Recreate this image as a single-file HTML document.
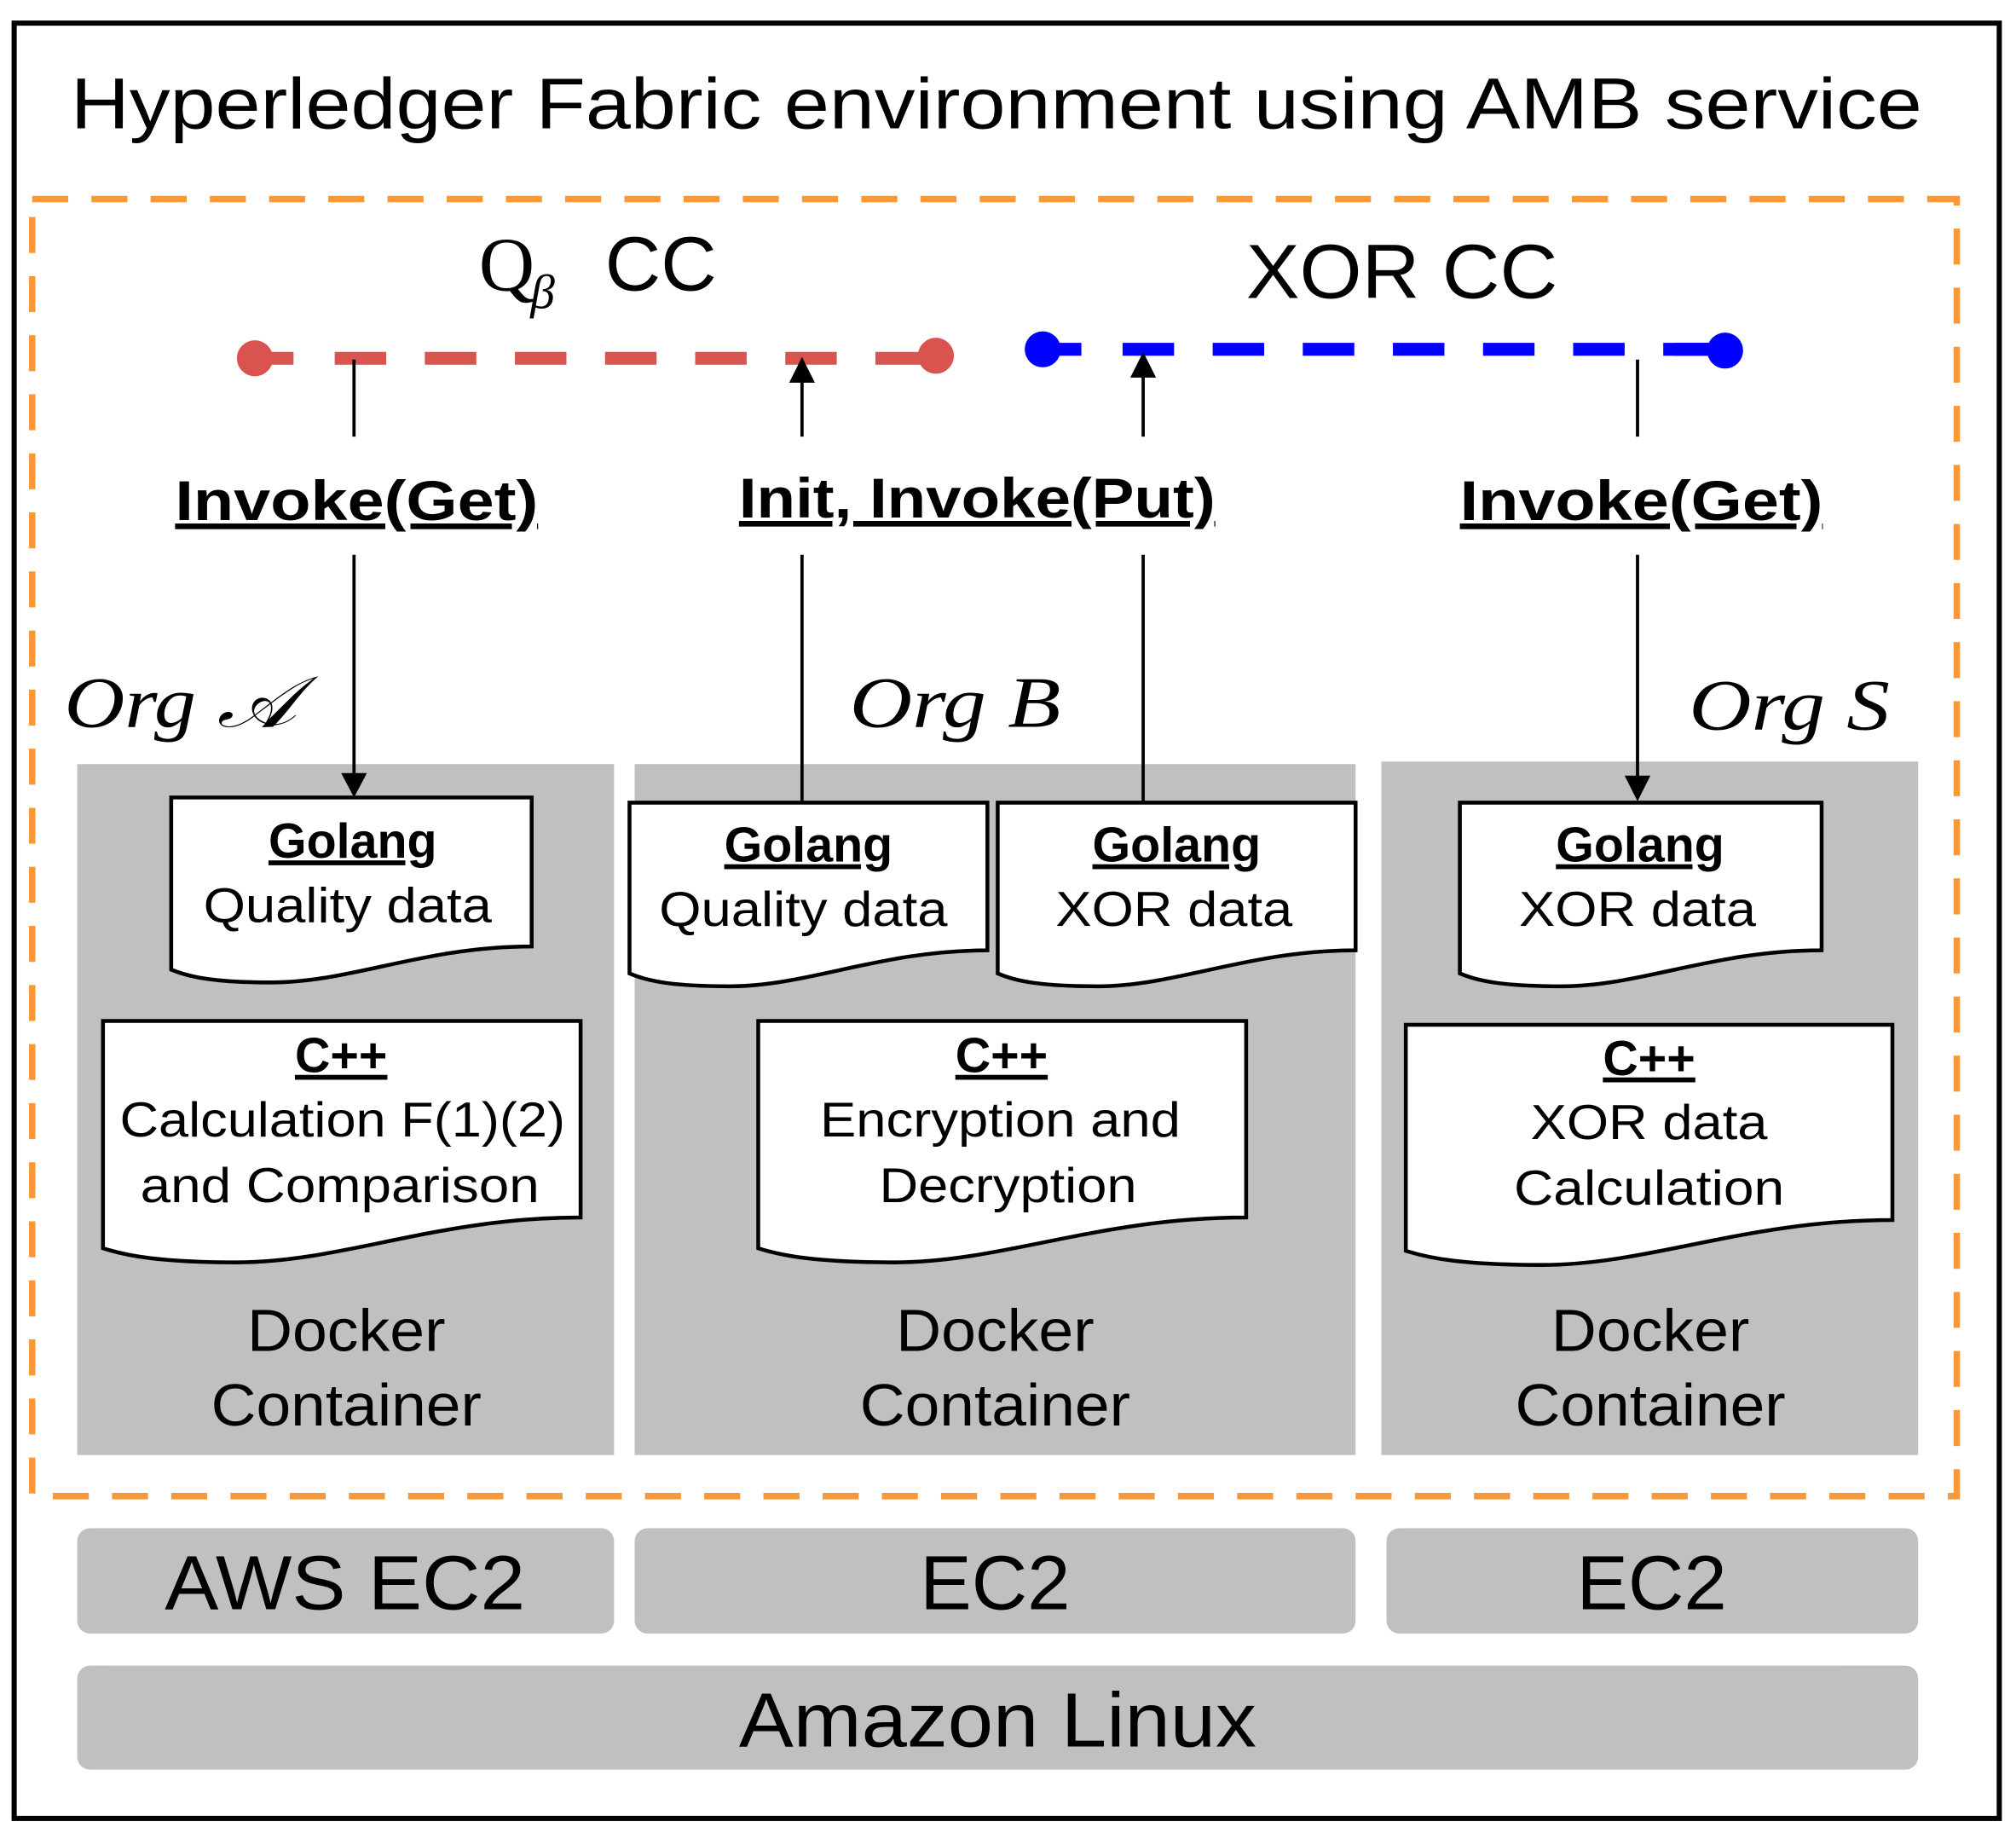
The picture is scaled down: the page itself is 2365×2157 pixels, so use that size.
<!DOCTYPE html>
<html><head><meta charset="utf-8"><style>html,body{margin:0;padding:0;background:#fff}svg{display:block}</style></head>
<body>
<svg width="2365" height="2157" viewBox="0 0 1566 1432" preserveAspectRatio="none" xmlns="http://www.w3.org/2000/svg" font-family="Liberation Sans, sans-serif">
<rect x="11" y="18" width="1542" height="1398" fill="#fff" stroke="#000" stroke-width="4"/>
<text x="55" y="100" font-size="56" textLength="1438" lengthAdjust="spacingAndGlyphs">Hyperledger Fabric environment using AMB service</text>
<rect x="25" y="155" width="1495" height="1010" fill="none" stroke="#f7993a" stroke-width="5" stroke-dasharray="28 18"/>
<text x="372" y="226" font-size="60" font-family="Liberation Serif, serif">Q</text>
<text x="412" y="240" font-size="38" font-style="italic" font-family="Liberation Serif, serif">β</text>
<text x="470" y="226" font-size="60">CC</text>
<text x="968" y="232" font-size="60" textLength="242" lengthAdjust="spacingAndGlyphs">XOR CC</text>
<line x1="198" y1="279" x2="228" y2="279" stroke="#d9534f" stroke-width="10"/>
<line x1="260" y1="279" x2="727" y2="279" stroke="#d9534f" stroke-width="10" stroke-dasharray="40 30"/>
<circle cx="198" cy="279" r="14" fill="#d9534f"/><circle cx="727" cy="277" r="14" fill="#d9534f"/>
<line x1="810" y1="272" x2="840" y2="272" stroke="#0000ff" stroke-width="10"/>
<line x1="872" y1="272" x2="1340" y2="272" stroke="#0000ff" stroke-width="10" stroke-dasharray="40 30"/>
<line x1="1300" y1="272" x2="1340" y2="272" stroke="#0000ff" stroke-width="10"/>
<circle cx="810" cy="272" r="14" fill="#0000ff"/><circle cx="1340" cy="273" r="14" fill="#0000ff"/>
<g fill="#c0c0c0">
<rect x="60" y="595" width="417" height="538"/>
<rect x="493" y="595" width="560" height="538"/>
<rect x="1073" y="593" width="417" height="540"/>
<rect x="60" y="1190" width="417" height="82" rx="10"/>
<rect x="493" y="1190" width="560" height="82" rx="10"/>
<rect x="1077" y="1190" width="413" height="82" rx="10"/>
<rect x="60" y="1297" width="1430" height="81" rx="10"/>
</g>
<g stroke="#000" stroke-width="2.5">
<line x1="275" y1="280" x2="275" y2="340"/>
<line x1="275" y1="432" x2="275" y2="604"/>
<line x1="623" y1="626" x2="623" y2="432"/>
<line x1="623" y1="340" x2="623" y2="296"/>
<line x1="888" y1="626" x2="888" y2="432"/>
<line x1="888" y1="340" x2="888" y2="292"/>
<line x1="1272" y1="280" x2="1272" y2="340"/>
<line x1="1272" y1="432" x2="1272" y2="606"/>
</g>
<g fill="#000">
<polygon points="265,602 285,602 275,621"/>
<polygon points="613,298 633,298 623,278"/>
<polygon points="878,294 898,294 888,274"/>
<polygon points="1262,604 1282,604 1272,624"/>
</g>
<g font-size="44" font-weight="bold" text-anchor="middle" text-decoration="underline">
<text x="277" y="405" textLength="282" lengthAdjust="spacingAndGlyphs">Invoke(Get)</text>
<text x="759" y="403" textLength="370" lengthAdjust="spacingAndGlyphs">Init, Invoke(Put)</text>
<text x="1275" y="405" textLength="282" lengthAdjust="spacingAndGlyphs">Invoke(Get)</text>
</g>
<g font-size="56" font-style="italic" font-family="Liberation Serif, serif">
<text x="50" y="566" textLength="180" lengthAdjust="spacingAndGlyphs">Org 𝒜</text>
<text x="660" y="566" textLength="164" lengthAdjust="spacingAndGlyphs">Org B</text>
<text x="1312" y="568" textLength="156" lengthAdjust="spacingAndGlyphs">Org S</text>
</g>
<g fill="#fff" stroke="#000" stroke-width="3">
<path d="M133 621 H413 V737 C329 737 273 765 211 765 C167 765 147 761 133 755 Z"/>
<path d="M489 625 H767 V740 C684 740 628 768 567 768 C522 768 503 764 489 758 Z"/>
<path d="M775 625 H1053 V740 C970 740 914 768 853 768 C808 768 789 764 775 758 Z"/>
<path d="M1134 625 H1415 V740 C1331 740 1275 768 1213 768 C1168 768 1148 764 1134 758 Z"/>
<path d="M80 795 H451 V948 C340 948 266 983 184 983 C125 983 99 978 80 972 Z"/>
<path d="M589 795 H968 V948 C854 948 779 983 695 983 C635 983 608 978 589 972 Z"/>
<path d="M1092 798 H1470 V950 C1357 950 1281 985 1198 985 C1137 985 1111 980 1092 974 Z"/>
</g>
<g font-size="38" text-anchor="middle">
<g font-weight="bold" text-decoration="underline">
<text x="274" y="668">Golang</text><text x="628" y="671">Golang</text><text x="914" y="671">Golang</text><text x="1274" y="671">Golang</text>
<text x="265" y="835">C++</text><text x="778" y="835">C++</text><text x="1281" y="837">C++</text>
</g>
<text x="270" y="718" textLength="224" lengthAdjust="spacingAndGlyphs">Quality data</text><text x="624" y="721" textLength="224" lengthAdjust="spacingAndGlyphs">Quality data</text><text x="912" y="721" textLength="184" lengthAdjust="spacingAndGlyphs">XOR data</text><text x="1272" y="721" textLength="184" lengthAdjust="spacingAndGlyphs">XOR data</text>
<text x="266" y="885" textLength="346" lengthAdjust="spacingAndGlyphs">Calculation F(1)(2)</text><text x="264" y="936" textLength="310" lengthAdjust="spacingAndGlyphs">and Comparison</text>
<text x="777" y="885" textLength="280" lengthAdjust="spacingAndGlyphs">Encryption and</text><text x="783" y="936" textLength="200" lengthAdjust="spacingAndGlyphs">Decryption</text>
<text x="1281" y="887" textLength="184" lengthAdjust="spacingAndGlyphs">XOR data</text><text x="1281" y="938" textLength="210" lengthAdjust="spacingAndGlyphs">Calculation</text>
</g>
<g font-size="46" text-anchor="middle">
<text x="269" y="1052" textLength="154" lengthAdjust="spacingAndGlyphs">Docker</text><text x="269" y="1110" textLength="210" lengthAdjust="spacingAndGlyphs">Container</text>
<text x="773" y="1052" textLength="154" lengthAdjust="spacingAndGlyphs">Docker</text><text x="773" y="1110" textLength="210" lengthAdjust="spacingAndGlyphs">Container</text>
<text x="1282" y="1052" textLength="154" lengthAdjust="spacingAndGlyphs">Docker</text><text x="1282" y="1110" textLength="210" lengthAdjust="spacingAndGlyphs">Container</text>
</g>
<g font-size="60" text-anchor="middle">
<text x="268" y="1253" textLength="280" lengthAdjust="spacingAndGlyphs">AWS EC2</text>
<text x="773" y="1253">EC2</text>
<text x="1283" y="1253">EC2</text>
<text x="775" y="1360" textLength="402" lengthAdjust="spacingAndGlyphs">Amazon Linux</text>
</g>
</svg>
</body></html>
